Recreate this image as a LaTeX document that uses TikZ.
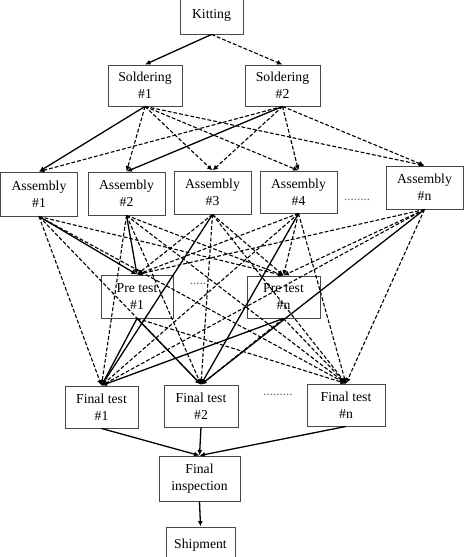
\documentclass[tikz,border=0pt]{standalone}
\usepackage{fontspec}
\setmainfont{Liberation Serif}
\usetikzlibrary{arrows.meta}
\begin{document}
\begin{tikzpicture}[x=1pt,y=-1pt,
  box/.style={draw=black!72, line width=0.9pt, rectangle, align=center, inner sep=0pt,
    font=\fontsize{13.7}{17}\selectfont},
  dots/.style={anchor=base, inner sep=0pt, text=black!60, font=\fontsize{13}{13}\selectfont},
  sol/.style={line width=1.3pt, -{Latex[length=5.5pt,width=5pt]}},
  das/.style={line width=1.1pt, dash pattern=on 3.8pt off 2pt, -{Latex[length=5.5pt,width=5pt]}}
]
\useasboundingbox (0,0) rectangle (465,557);
% nodes
\node[box, minimum width=63pt, minimum height=37pt] (kit) at (211.5,15.5) {Kitting};
\node[box, minimum width=74pt, minimum height=41pt] (s1) at (145,85.5) {Soldering\\\#1};
\node[box, minimum width=75pt, minimum height=41pt] (s2) at (282.5,85.5) {Soldering\\\#2};
\node[box, minimum width=77pt, minimum height=44pt] (a1) at (39,194) {Assembly\\\#1};
\node[box, minimum width=77pt, minimum height=43pt] (a2) at (126.5,193.5) {Assembly\\\#2};
\node[box, minimum width=77pt, minimum height=43pt] (a3) at (212.5,192.5) {Assembly\\\#3};
\node[box, minimum width=77pt, minimum height=42pt] (a4) at (298.5,192) {Assembly\\\#4};
\node[box, minimum width=77pt, minimum height=43pt] (an) at (424.5,187.5) {Assembly\\\#n};
\node[dots] (da) at (357,200) {........};
\node[box, minimum width=72pt, minimum height=43pt] (p1) at (137,296.5) {Pre test\\\#1};
\node[box, minimum width=73pt, minimum height=42pt] (pn) at (283.5,297) {Pre test\\\#n};
\node[dots] (dp) at (198,284) {.....};
\node[box, minimum width=73pt, minimum height=42pt] (f1) at (101.5,407) {Final test\\\#1};
\node[box, minimum width=74pt, minimum height=42pt] (f2) at (201,406) {Final test\\\#2};
\node[box, minimum width=78pt, minimum height=42pt] (fn) at (346,405) {Final test\\\#n};
\node[dots] (df) at (278,395) {.........};
\node[box, minimum width=81pt, minimum height=45pt] (fi) at (199.5,478.5) {Final\\inspection};
\node[box, minimum width=69pt, minimum height=36pt] (sh) at (200.5,545) {Shipment};
% connectors
\draw[sol] (kit.south) -- (s1.north);
\draw[das] (kit.south) -- (s2.north);
\foreach \t in {a2,a3,a4,an} \draw[das] (s1.south) -- (\t.north);
\foreach \t in {a1,a3,a4,an} \draw[das] (s2.south) -- (\t.north);
\draw[sol] (s1.south) -- (a1.north);
\draw[sol] (s2.south) -- (a2.north);
\foreach \s/\t in {a1/pn,a1/f1,a1/f2,a1/fn,
                   a2/pn,a2/f1,a2/f2,a2/fn,
                   a3/p1,a3/pn,a3/f2,a3/fn,
                   a4/p1,a4/pn,a4/f1,a4/fn,
                   an/p1,an/pn,an/f1,an/fn,
                   p1/fn,pn/f2,pn/fn}
  \draw[das] (\s.south) -- (\t.north);
\foreach \s/\t in {a1/p1,a2/p1,a3/f1,a4/f2,an/f2,p1/f1,p1/f2,pn/f1}
  \draw[sol] (\s.south) -- (\t.north);
\foreach \s in {f1,f2,fn} \draw[sol] (\s.south) -- (fi.north);
\draw[sol] (fi.south) -- (sh.north);
\end{tikzpicture}
\end{document}
